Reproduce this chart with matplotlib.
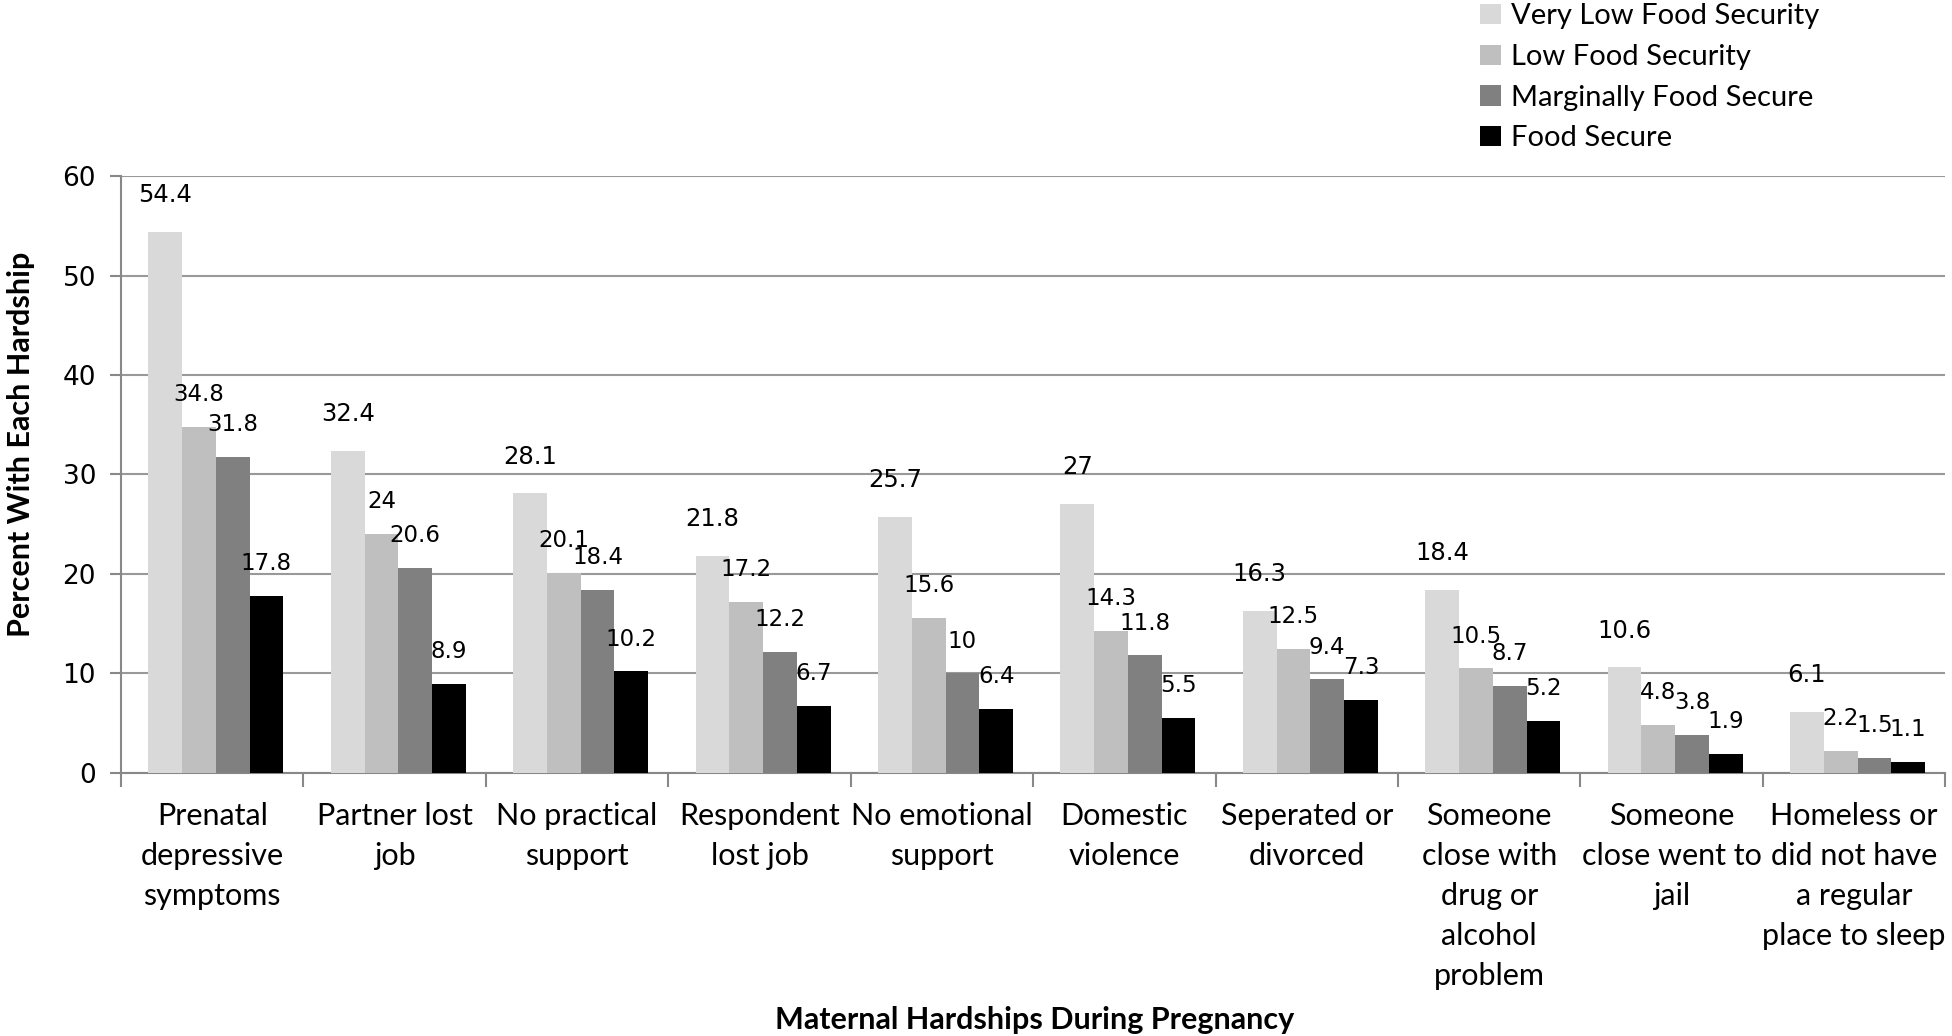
import numpy as np
import matplotlib
matplotlib.use("Agg")
import matplotlib.pyplot as plt

categories = ["Prenatal\ndepressive\nsymptoms", "Partner lost\njob", "No practical\nsupport",
              "Respondent\nlost job", "No emotional\nsupport", "Domestic\nviolence",
              "Seperated or\ndivorced", "Someone\nclose with\ndrug or\nalcohol\nproblem",
              "Someone\nclose went to\njail", "Homeless or\ndid not have\na regular\nplace to sleep"]
series = ["Very Low Food Security", "Low Food Security", "Marginally Food Secure", "Food Secure"]
very_low = [54.4, 32.4, 28.1, 21.8, 25.7, 27, 16.3, 18.4, 10.6, 6.1]
low = [34.8, 24, 20.1, 17.2, 15.6, 14.3, 12.5, 10.5, 4.8, 2.2]
marginal = [31.8, 20.6, 18.4, 12.2, 10, 11.8, 9.4, 8.7, 3.8, 1.5]
secure = [17.8, 8.9, 10.2, 6.7, 6.4, 5.5, 7.3, 5.2, 1.9, 1.1]
colors = ["#d9d9d9", "#bfbfbf", "#808080", "#000000"]

txt_font = ["Lato", "DejaVu Sans"]
num_font = ["DejaVu Sans"]

fig = plt.figure(figsize=(19.52, 10.36), dpi=100)
ax = fig.add_axes([0.062, 0.254, 0.9345, 0.576])

x = np.arange(len(categories))
w = 0.185
for i, (vals, col, name) in enumerate(zip([very_low, low, marginal, secure], colors, series)):
    pos = x + (i - 1.5) * w + 0.02
    bars = ax.bar(pos, vals, w, color=col, label=name, zorder=3)
    off = 3.0 if i == 0 else 2.6
    fs = 17.5 if i == 0 else 16.5
    for b, v in zip(bars, vals):
        ax.text(b.get_x() + b.get_width() / 2, v + off, f"{v:g}", ha="center", va="baseline",
                fontsize=fs, family=num_font, zorder=4)

ax.set_ylim(0, 60)
ax.set_yticks(range(0, 61, 10))
ax.set_xlim(-0.5, len(categories) - 0.5)
ax.set_xticks(x)
ax.set_xticklabels(categories, fontsize=22, family=txt_font, linespacing=1.52)
ax.set_xticks(np.arange(-0.5, len(categories)), minor=True)
ax.tick_params(axis="x", which="major", length=0, pad=21)
ax.tick_params(axis="x", which="minor", length=10, color="#888888", width=1.5)
ax.tick_params(axis="y", length=8, color="#888888", width=1.5, labelsize=19, pad=10)
for lab in ax.get_yticklabels():
    lab.set_family(num_font)
ax.grid(axis="y", color="#999999", linewidth=1.5, zorder=0)
for s in ["top", "right"]:
    ax.spines[s].set_visible(False)
for s in ["left", "bottom"]:
    ax.spines[s].set_color("#888888")
    ax.spines[s].set_linewidth(1.5)

ax.set_ylabel("Percent With Each Hardship", fontsize=22, fontweight="bold", family=txt_font)
ax.yaxis.set_label_coords(-0.047, 0.55)
fig.text(0.53, 0.015, "Maternal Hardships During Pregnancy", ha="center", va="center",
         fontsize=22, fontweight="bold", family=txt_font)

fig.legend(loc="upper left", bbox_to_anchor=(0.745, 1.022), frameon=False,
           prop={"family": txt_font, "size": 21}, handlelength=0.7, handleheight=0.7,
           handletextpad=0.35, labelspacing=0.5)

fig.savefig("out.png", dpi=100)
